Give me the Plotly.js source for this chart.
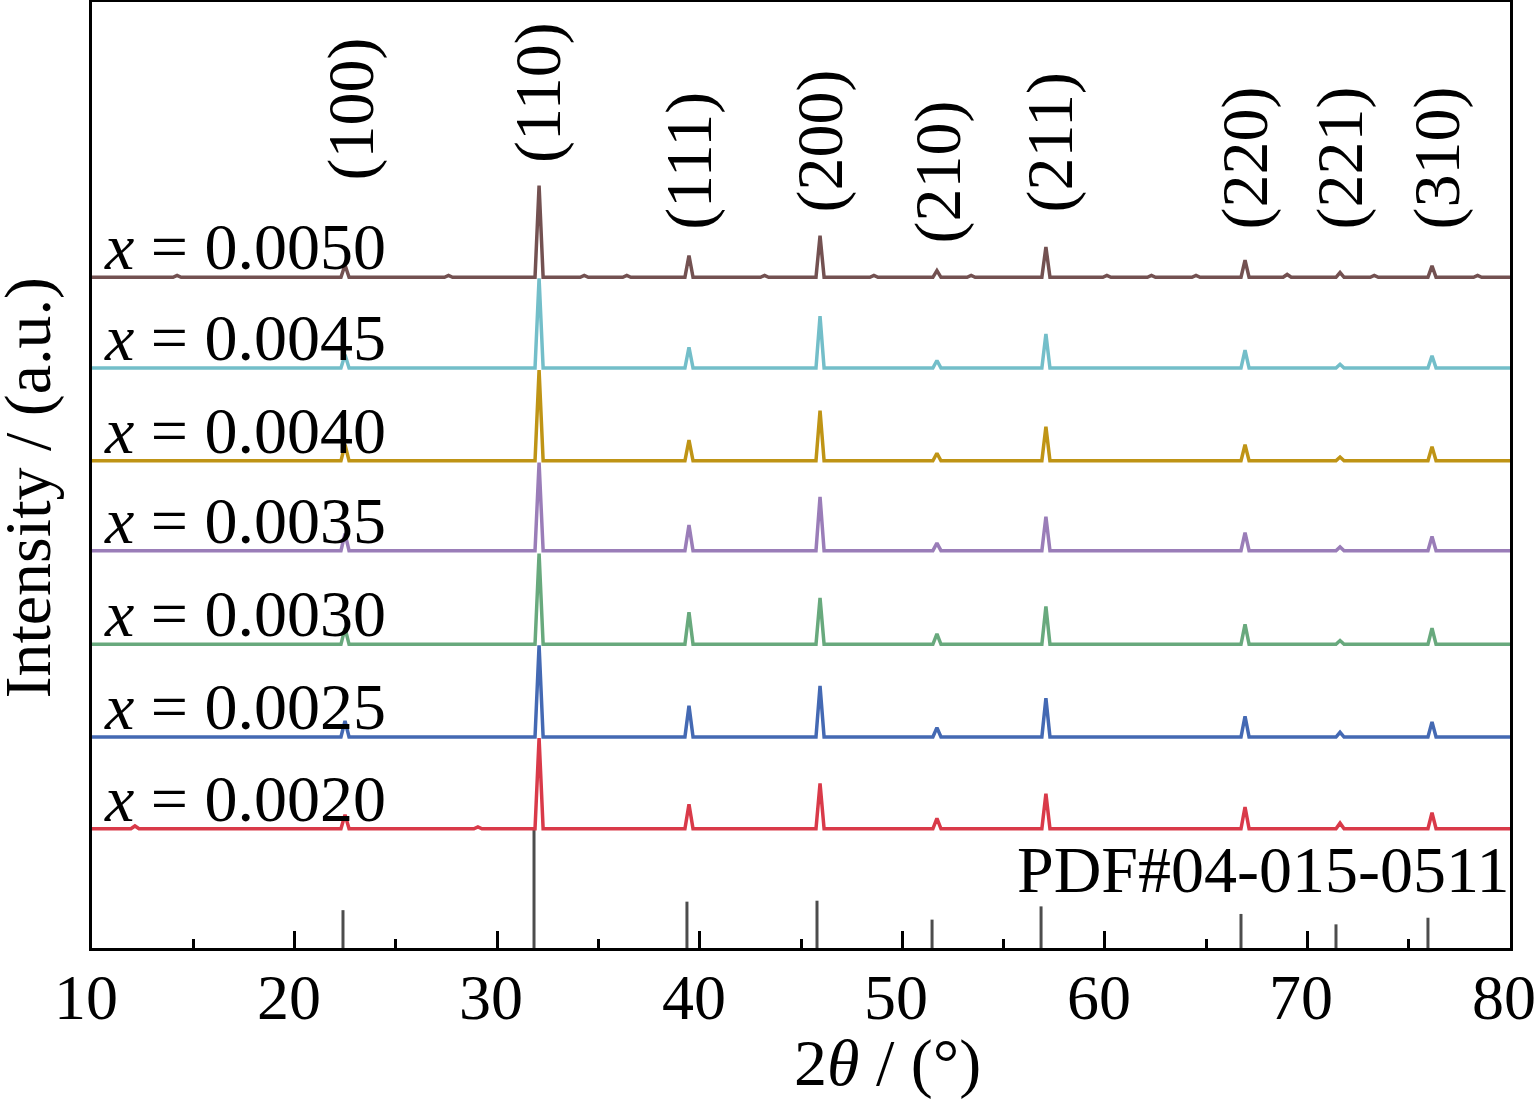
<!DOCTYPE html>
<html>
<head>
<meta charset="utf-8">
<script src="https://cdn.plot.ly/plotly-3.0.1.min.js"></script>
<style>
  body { margin: 0; background: #fff; }
  #chart { width: 1536px; height: 1104px; }
</style>
</head>
<body>
<div id="chart"></div>
<script>
// peak positions (2theta) and Miller indices
const hkl = ["(100)", "(110)", "(111)", "(200)", "(210)", "(211)", "(220)", "(221)", "(310)"];
const peakPos = [22.49, 32.07, 39.47, 45.94, 51.71, 57.09, 66.92, 71.61, 76.15];

// series, bottom to top
const samples = ["0.0020", "0.0025", "0.0030", "0.0035", "0.0040", "0.0045", "0.0050"];
const offsets = [126, 223, 321, 420, 515, 613, 709];
const colors = ["#d93a49", "#4469b3", "#68a97d", "#9a7db8", "#bf9415", "#73bec9", "#735151"];

// peak heights (a.u.) for each series, in hkl order
const h0020 = [15, 96, 26, 48, 11, 37, 23, 6, 17];
const h0025 = [17, 97, 33, 54, 10, 41, 22, 5, 16];
const h0030 = [17, 96, 34, 49, 11, 40, 21, 4, 17];
const h0035 = [18, 93, 27, 57, 8, 36, 19, 4, 15];
const h0040 = [17, 96, 22, 53, 8, 36, 17, 4, 15];
const h0045 = [14, 95, 22, 55, 8, 36, 19, 4, 13];
const h0050 = [13, 97, 23, 44, 7, 32, 18, 5, 12];
const heights = [h0020, h0025, h0030, h0035, h0040, h0045, h0050];

// small extra bumps seen on some baselines
const extraX = [[12.12, 29.05], [], [], [], [], [], [14.2, 27.6, 34.3, 36.4, 43.2, 48.6, 53.4, 60.1, 62.3, 64.5, 69.0, 73.3, 78.4]];
const extraH = [[3, 2], [], [], [], [], [], [2, 2, 2, 2, 2, 2, 2, 2, 2, 2, 3, 2, 2]];

// PDF#04-015-0511 reference sticks
const refPos = [22.39, 31.82, 39.37, 45.79, 51.47, 56.85, 66.72, 71.41, 75.95];
const refInt = [40, 126, 49, 50, 30, 44, 36, 25, 32];

// x tick labels
const xTicks = [10, 20, 30, 40, 50, 60, 70, 80];

const hw = 0.2;

function buildTrace(i) {
  let pts = [];
  peakPos.forEach((p, k) => pts.push([p, heights[i][k]]));
  extraX[i].forEach((p, k) => pts.push([p, extraH[i][k]]));
  pts.sort((a, b) => a[0] - b[0]);
  let x = [10], y = [offsets[i]];
  pts.forEach(([p, h]) => {
    x.push(p - hw, p, p + hw);
    y.push(offsets[i], offsets[i] + h, offsets[i]);
  });
  x.push(80);
  y.push(offsets[i]);
  return {
    x: x, y: y, type: "scatter", mode: "lines",
    line: { color: colors[i], width: 3.5 },
    hoverinfo: "skip"
  };
}

let sx = [], sy = [];
refPos.forEach((p, k) => {
  sx.push(p, p, null);
  sy.push(0, refInt[k], null);
});

const traces = [{
  x: sx, y: sy, type: "scatter", mode: "lines",
  line: { color: "#4d4d4d", width: 3 }, hoverinfo: "skip"
}];
for (let i = 0; i < samples.length; i++) traces.push(buildTrace(i));

const font = "Liberation Serif, Times New Roman, serif";
const fs = 66;

const hklX = [22.8, 32.05, 39.47, 45.94, 51.76, 57.3, 66.92, 71.61, 76.4];
const hklY = [0.809, 0.828, 0.757, 0.775, 0.743, 0.775, 0.757, 0.757, 0.757];

let annotations = [];
samples.forEach((s, i) => {
  annotations.push({
    x: 10.5, y: offsets[i], xref: "x", yref: "y",
    xanchor: "left", yanchor: "bottom", yshift: -8,
    text: "<i>x</i> = " + s, showarrow: false,
    font: { family: font, size: fs, color: "#000" }
  });
});
hkl.forEach((t, k) => {
  annotations.push({
    x: hklX[k], y: hklY[k], xref: "x", yref: "paper",
    xanchor: "center", yanchor: "bottom", textangle: -90,
    text: t, showarrow: false,
    font: { family: font, size: fs, color: "#000" }
  });
});
annotations.push({
  x: 1, y: 0.083, xref: "paper", yref: "paper",
  xanchor: "right", yanchor: "middle", xshift: 2,
  text: "PDF#04-015-0511", showarrow: false,
  font: { family: font, size: fs, color: "#000" }
});
xTicks.forEach(t => {
  annotations.push({
    x: t, y: -0.052, xref: "x", yref: "paper",
    xanchor: "center", yanchor: "middle", xshift: -6,
    text: String(t), showarrow: false,
    font: { family: font, size: 64, color: "#000" }
  });
});
// axis titles
annotations.push({
  x: 0.561, y: -0.1649, xref: "paper", yref: "paper",
  xanchor: "center", yanchor: "bottom", borderpad: 0, yshift: 3,
  text: "2<i>θ</i> / (°)", showarrow: false,
  font: { family: font, size: fs, color: "#000" }
});
annotations.push({
  x: -0.045, y: 0.487, xref: "paper", yref: "paper",
  xanchor: "center", yanchor: "middle", textangle: -90,
  text: "Intensity / (a.u.)", showarrow: false,
  font: { family: font, size: fs, color: "#000" }
});

const layout = {
  width: 1536, height: 1104,
  margin: { l: 92, r: 26, t: 2, b: 156 },
  showlegend: false,
  paper_bgcolor: "#fff", plot_bgcolor: "#fff",
  font: { family: font, color: "#000" },
  xaxis: {
    range: [10, 80], tick0: 10, dtick: 10,
    ticks: "inside", ticklen: 17, tickwidth: 3, tickcolor: "#000",
    minor: { dtick: 5, ticks: "inside", ticklen: 9, tickwidth: 3, tickcolor: "#000" },
    showline: true, linewidth: 3, linecolor: "#000", mirror: true,
    showgrid: false, zeroline: false,
    showticklabels: false
  },
  yaxis: {
    range: [0, 1000], showticklabels: false, ticks: "",
    showline: true, linewidth: 3, linecolor: "#000", mirror: true,
    showgrid: false, zeroline: false
  },
  annotations: annotations
};

Plotly.newPlot("chart", traces, layout, { displayModeBar: false, staticPlot: true });
</script>
</body>
</html>
